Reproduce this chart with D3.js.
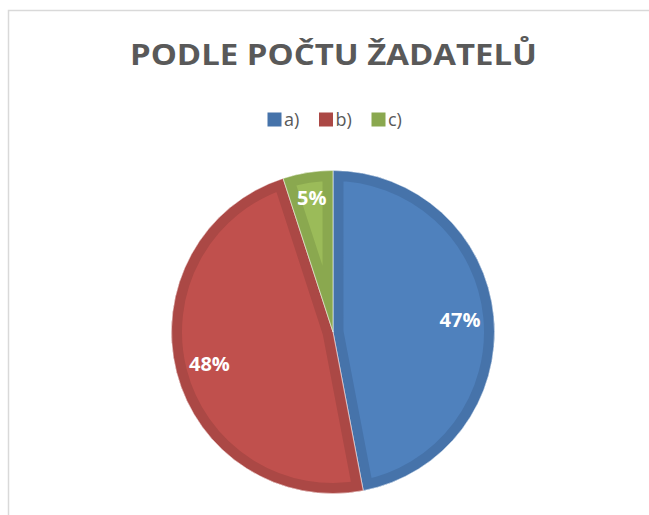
<!DOCTYPE html>
<html>
<head>
<meta charset="utf-8">
<script src="https://cdn.jsdelivr.net/npm/d3@7"></script>
<style>
  html,body{margin:0;padding:0;background:#fff;}
  svg{display:block;}
</style>
</head>
<body>
<svg id="chart" width="649" height="515"></svg>
<script>
// data
var title='PODLE POČTU ŽADATELŮ'
var categories=['a)','b)','c)']
var values=[47,48,5]
var fills=['#4F81BD','#C0504D','#9BBB59']
var bands=['#4673AA','#AB4845','#8AA84F']

var W=649,H=515
var svg=d3.select('#chart')

// chart area frame (cropped on right / bottom)
svg.append('path')
    .attr('d','M8.5,'+H+' V10.5 H'+W)
    .attr('fill','none')
    .attr('stroke','#d9d9d9')
    .attr('stroke-width',1.5)

// title
svg.append('text')
    .attr('x',333.5).attr('y',64.5)
    .attr('text-anchor','middle')
    .attr('font-family','Open Sans, sans-serif')
    .attr('font-weight','bold')
    .attr('font-size',29)
    .attr('fill','#595959')
    .attr('textLength',407)
    .attr('lengthAdjust','spacingAndGlyphs')
    .text(title)

// legend
var lx=d3.scaleOrdinal().domain(categories).range([267.5,319,371.5])
var leg=svg.append('g').selectAll('g')
    .data(categories)
    .join('g')
    .attr('transform',d=>`translate(${lx(d)},112.5)`)
leg.append('rect')
    .attr('width',14).attr('height',14)
    .attr('fill',(d,i)=>bands[i])
leg.append('text')
    .attr('x',16.5).attr('y',13.5)
    .attr('font-family','Open Sans, sans-serif')
    .attr('font-size',18)
    .attr('fill','#595959')
    .text(d=>d)

// pie
var cx=333,cy=332,r=161.5
var pie=d3.pie().sort(null).value(d=>d)
var arcs=pie(values)
var arc=d3.arc().innerRadius(0).outerRadius(r)
var labelArc=d3.arc().innerRadius(r*0.79).outerRadius(r*0.79)
var total=d3.sum(values)

var g=svg.append('g').attr('transform',`translate(${cx},${cy})`)
var defs=svg.append('defs')
defs.selectAll('clipPath')
    .data(arcs)
    .join('clipPath')
    .attr('id',(d,i)=>'clip'+i)
    .append('path')
    .attr('d',arc)

var slices=g.selectAll('g.slice')
    .data(arcs)
    .join('g')
    .attr('class','slice')
slices.append('path')
    .attr('d',arc)
    .attr('fill',(d,i)=>fills[i])
// inner darker band
slices.append('path')
    .attr('d',arc)
    .attr('fill','none')
    .attr('stroke',(d,i)=>bands[i])
    .attr('stroke-width',21)
    .attr('stroke-linejoin','miter')
    .attr('clip-path',(d,i)=>`url(#clip${i})`)
// thin light separators
slices.append('path')
    .attr('d',arc)
    .attr('fill','none')
    .attr('stroke','#fff')
    .attr('stroke-opacity',0.55)
    .attr('stroke-width',1)

g.selectAll('text.lbl')
    .data(arcs)
    .join('text')
    .attr('class','lbl')
    .attr('transform',d=>{
        var c=labelArc.centroid(d)
        if(d.value/total<0.1){c=d3.arc().innerRadius(r*0.84).outerRadius(r*0.84).centroid(d)}
        return `translate(${c[0]},${c[1]})`
    })
    .attr('text-anchor','middle')
    .attr('dy','0.36em')
    .attr('font-family','Open Sans, sans-serif')
    .attr('font-weight','bold')
    .attr('font-size',20)
    .attr('fill','#fff')
    .text(d=>Math.round(d.value/total*100)+'%')
</script>
</body>
</html>
